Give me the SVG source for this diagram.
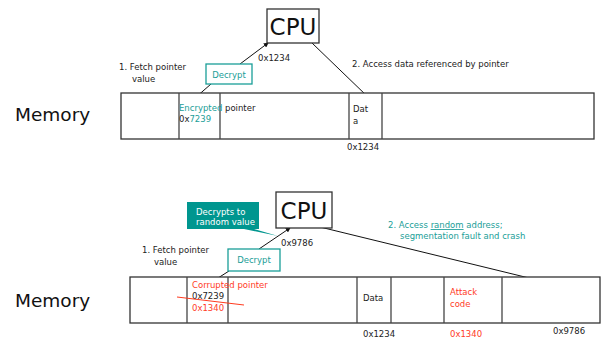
<svg xmlns="http://www.w3.org/2000/svg" width="601" height="341" viewBox="0 0 601 341">
<style>
text{font-family:"DejaVu Sans",Verdana,sans-serif;font-size:8.5px;fill:#222}
.big{font-size:18.5px;fill:#111}
.cpu{font-size:23px;fill:#111}
.teal{fill:#1a9e98}
.red{fill:#ff3b1f}
.wh{fill:#fff}
.box{fill:#fff;stroke:#333;stroke-width:1.3}
.cell{fill:none;stroke:#444;stroke-width:1.3}
.tbox{fill:#fff;stroke:#1a9e98;stroke-width:1.3}
.ln{stroke:#111;stroke-width:1;fill:none}
</style>
<defs>
<marker id="ah" viewBox="0 0 6 6" refX="5" refY="3" markerWidth="5" markerHeight="5" orient="auto" markerUnits="userSpaceOnUse">
<path d="M0,0 L6,3 L0,6 z" fill="#111"/>
</marker>
</defs>

<g id="connectors">
<line class="ln" x1="195" y1="98" x2="211" y2="84"/>
<line class="ln" x1="240" y1="64" x2="268" y2="43" marker-end="url(#ah)"/>
<line class="ln" x1="312" y1="43" x2="368" y2="97" marker-end="url(#ah)"/>
<line class="ln" x1="218" y1="278" x2="229" y2="271"/>
<line class="ln" x1="259" y1="249" x2="290" y2="228" marker-end="url(#ah)"/>
<line class="ln" x1="320" y1="227" x2="570" y2="288" marker-end="url(#ah)"/>
</g>

<g id="top-memory-label"><text class="big" x="15" y="121">Memory</text></g>
<g id="top-memory">
<rect class="box" x="121" y="93" width="473" height="46"/>
<line class="cell" x1="179" y1="93" x2="179" y2="139"/>
<line class="cell" x1="220" y1="93" x2="220" y2="139"/>
<line class="cell" x1="349" y1="93" x2="349" y2="139"/>
<line class="cell" x1="382" y1="93" x2="382" y2="139"/>
<text class="teal" x="179" y="111">Encrypted</text>
<text x="225" y="111">pointer</text>
<text x="179" y="122">0x<tspan class="teal">7239</tspan></text>
<text x="353" y="112">Dat</text>
<text x="353" y="124">a</text>
<text x="347" y="150">0x1234</text>
</g>
<g id="top-cpu">
<rect class="box" x="267" y="9" width="52" height="34"/>
<text class="cpu" x="293" y="35" text-anchor="middle">CPU</text>
<text x="258" y="61">0x1234</text>
</g>
<g id="top-decrypt">
<rect class="tbox" x="206" y="64" width="46" height="20"/>
<text class="teal" x="229" y="78" text-anchor="middle">Decrypt</text>
</g>
<g id="top-labels">
<text x="119" y="70">1. Fetch pointer</text>
<text x="132" y="82">value</text>
<text x="352" y="67">2. Access data referenced by pointer</text>
</g>

<g id="bottom-memory-label"><text class="big" x="15" y="307">Memory</text></g>
<g id="bottom-memory">
<rect class="box" x="130" y="277" width="470" height="46"/>
<line class="cell" x1="187" y1="277" x2="187" y2="323"/>
<line class="cell" x1="228" y1="277" x2="228" y2="323"/>
<line class="cell" x1="357" y1="277" x2="357" y2="323"/>
<line class="cell" x1="391" y1="277" x2="391" y2="323"/>
<line class="cell" x1="444" y1="277" x2="444" y2="323"/>
<line class="cell" x1="502" y1="277" x2="502" y2="323"/>
<text class="red" x="192" y="288">Corrupted pointer</text>
<text x="192" y="299">0x7239</text>
<text class="red" x="192" y="311">0x1340</text>
<line x1="177" y1="297" x2="244" y2="305" stroke="#ff3b1f" stroke-width="1"/>
<text x="363" y="301">Data</text>
<text class="red" x="450" y="295">Attack</text>
<text class="red" x="450" y="307">code</text>
<text x="363" y="337">0x1234</text>
<text class="red" x="450" y="337">0x1340</text>
<text x="553" y="334">0x9786</text>
</g>
<g id="bottom-cpu">
<rect class="box" x="276" y="192" width="56" height="36"/>
<text class="cpu" x="304" y="219" text-anchor="middle">CPU</text>
<text x="281" y="246">0x9786</text>
</g>
<g id="bottom-callout">
<path d="M187,202 H259 V229 H254 L278,236 L244,229 H187 Z" fill="#00968f"/>
<text class="wh" x="196" y="215">Decrypts to</text>
<text class="wh" x="196" y="225">random value</text>
</g>
<g id="bottom-decrypt">
<rect class="tbox" x="228" y="249" width="52" height="22"/>
<text class="teal" x="254" y="263" text-anchor="middle">Decrypt</text>
</g>
<g id="bottom-labels">
<text x="142" y="253">1. Fetch pointer</text>
<text x="154" y="265">value</text>
<text class="teal" x="388" y="228">2. Access <tspan text-decoration="underline">random</tspan> address;</text>
<text class="teal" x="400" y="239">segmentation fault and crash</text>
</g>
</svg>
